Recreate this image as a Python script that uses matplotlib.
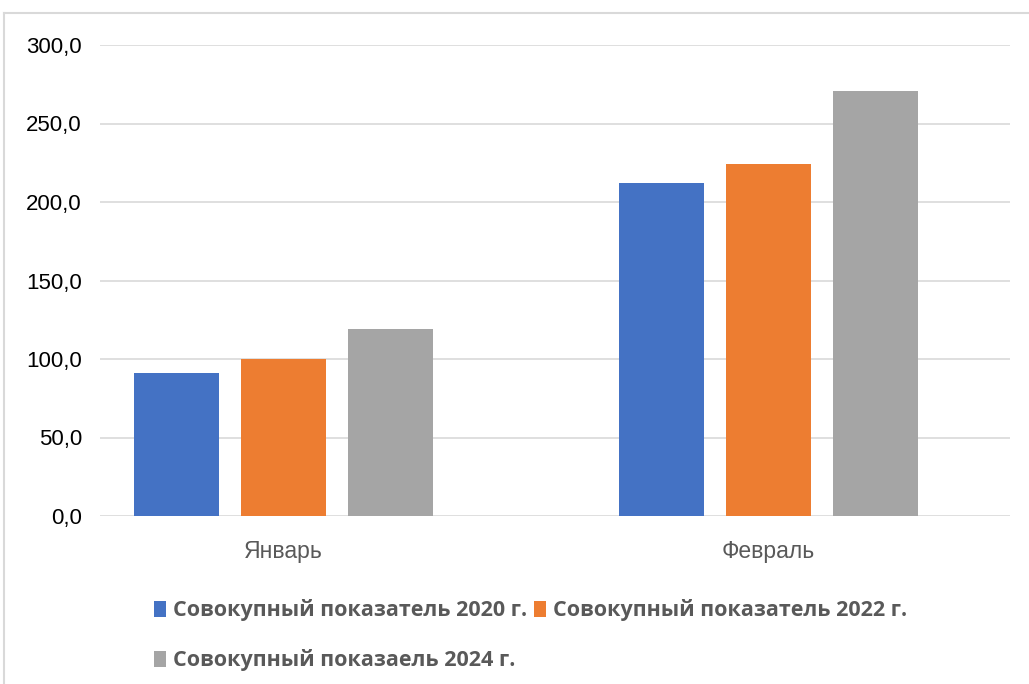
import matplotlib
matplotlib.use("Agg")
import matplotlib.pyplot as plt
from matplotlib.lines import Line2D
import numpy as np

categories = ["Январь", "Февраль"]
series_names = ["Совокупный показатель 2020 г.",
                "Совокупный показатель 2022 г.",
                "Совокупный показаель 2024 г."]
values_2020 = [91.0, 212.0]
values_2022 = [100.0, 224.5]
values_2024 = [119.0, 271.0]
y_ticks = [0, 50, 100, 150, 200, 250, 300]
y_tick_labels = ["0,0", "50,0", "100,0", "150,0", "200,0", "250,0", "300,0"]

colors = ["#4472C4", "#ED7D31", "#A5A5A5"]

fig = plt.figure(figsize=(10.29, 6.84), dpi=100)
W, H = 1029, 684
ax = fig.add_axes([100 / W, 1 - 516 / H, 910 / W, 471 / H])

x = np.arange(len(categories))
width = 85 / 485
step = 107 / 485
handles = []
for i, (vals, c, name) in enumerate(zip([values_2020, values_2022, values_2024], colors, series_names)):
    b = ax.bar(x + (i - 1) * step, vals, width=width, color=c, label=name, zorder=3)
    handles.append(b)

ax.set_xlim(-183 / 485, 1 + 242 / 485)
ax.set_ylim(0, 300)
ax.set_yticks(y_ticks)
ax.set_yticklabels(y_tick_labels, fontsize=16, fontfamily="Liberation Sans", color="#000000")
ax.set_xticks(x)
ax.set_xticklabels(categories, fontsize=16.5, fontfamily="Liberation Sans", color="#595959")
ax.tick_params(axis="y", length=0, pad=13)
ax.tick_params(axis="x", length=0, pad=17)
ax.grid(axis="y", color="#D9D9D9", linewidth=1.2, zorder=0)
for s in ax.spines.values():
    s.set_visible(False)
ax.set_axisbelow(True)

# legend (row-wise ordering)
leg = fig.legend([handles[0], handles[2], handles[1]],
                 [series_names[0], series_names[2], series_names[1]],
                 ncol=2, loc="upper left", bbox_to_anchor=(135 / W, 1 - 580 / H),
                 frameon=False, handlelength=0.55, handleheight=0.75, handletextpad=0.3,
                 columnspacing=0.35, labelspacing=1.3,
                 prop={"family": "Open Sans", "weight": "bold", "size": 15.5})
for t in leg.get_texts():
    t.set_color("#595959")

# outer frame
fig.add_artist(Line2D([4 / W, 4 / W], [0, 1 - 13 / H], transform=fig.transFigure, color="#D9D9D9", linewidth=1.5))
fig.add_artist(Line2D([4 / W, 1], [1 - 13 / H, 1 - 13 / H], transform=fig.transFigure, color="#D9D9D9", linewidth=1.5))

fig.savefig("out.png", dpi=100)
